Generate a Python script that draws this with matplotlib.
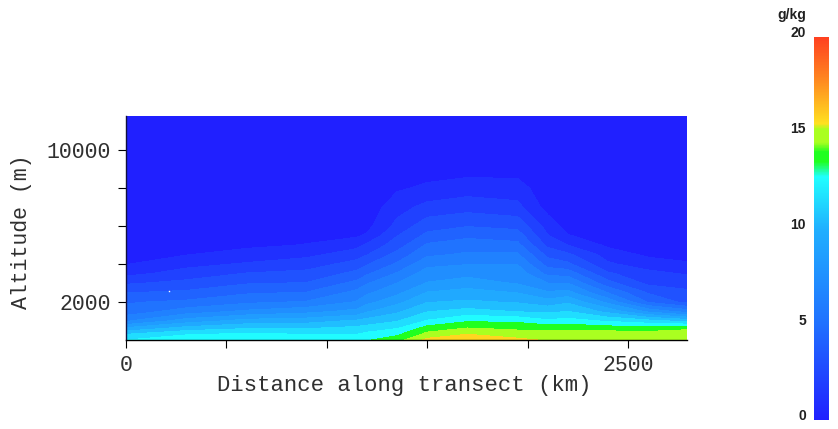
import matplotlib
matplotlib.use("Agg")
import matplotlib.pyplot as plt
import numpy as np
from matplotlib.cm import ScalarMappable
from matplotlib.colors import BoundaryNorm, LinearSegmentedColormap, Normalize

# Altitude rows (m) and transect stations (km)
altitude = [0, 300, 600, 1000, 1500, 2000, 2500, 3000, 3500, 4000, 4500, 5000, 5500, 6000, 7000, 8000, 9000, 12000]
distance = [0, 300, 600, 900, 1150, 1200, 1350, 1500, 1700, 1950, 2100, 2200, 2400, 2600, 2794]

# Specific humidity (g/kg) at each station, one value per altitude row
q_0000 = [12.0, 11.0, 9.3, 6.9, 5.4, 4.9, 3.95, 2.85, 1.7, 0.95, 0.7, 0.5, 0.4, 0.3, 0.2, 0.15, 0.1, 0.05]
q_0300 = [12.8, 11.9, 10.5, 8.5, 6.5, 5.2, 4.2, 3.3, 2.4, 1.7, 0.95, 0.7, 0.5, 0.4, 0.25, 0.15, 0.1, 0.05]
q_0600 = [13.0, 12.2, 11.0, 9.4, 7.2, 5.8, 4.85, 3.9, 3.05, 2.1, 1.45, 0.75, 0.55, 0.4, 0.25, 0.15, 0.1, 0.05]
q_0900 = [12.8, 12.0, 11.0, 9.6, 7.7, 6.1, 5.05, 4.05, 3.3, 2.5, 1.75, 1.05, 0.7, 0.5, 0.3, 0.2, 0.1, 0.05]
q_1150 = [12.6, 12.0, 11.3, 10.2, 8.3, 7.1, 6.3, 5.3, 4.3, 3.4, 2.5, 1.7, 0.85, 0.6, 0.35, 0.2, 0.1, 0.05]
q_1200 = [12.9, 12.3, 11.5, 10.4, 8.9, 7.7, 6.8, 5.9, 4.85, 3.9, 2.95, 2.2, 1.15, 0.7, 0.4, 0.2, 0.1, 0.05]
q_1350 = [13.6, 12.8, 12.0, 10.95, 9.8, 8.7, 7.75, 7.0, 6.1, 5.15, 4.35, 3.5, 2.95, 2.3, 1.6, 0.85, 0.4, 0.05]
q_1500 = [15.3, 14.3, 13.5, 12.1, 10.95, 9.95, 9.05, 8.05, 7.5, 6.7, 5.8, 5.15, 4.25, 3.6, 2.3, 1.2, 0.5, 0.05]
q_1700 = [15.9, 15.0, 14.1, 12.9, 11.4, 10.15, 9.4, 8.45, 7.7, 6.95, 6.15, 5.55, 4.75, 3.95, 2.6, 1.5, 0.6, 0.05]
q_1950 = [15.2, 14.6, 13.8, 12.8, 10.95, 9.9, 8.95, 7.9, 7.65, 6.95, 6.15, 5.3, 4.5, 3.7, 2.3, 1.4, 0.6, 0.05]
q_2100 = [14.9, 14.6, 13.8, 12.2, 10.8, 9.4, 8.1, 7.0, 5.7, 4.6, 3.7, 2.75, 2.05, 1.6, 0.6, 0.4, 0.2, 0.05]
q_2200 = [14.9, 14.6, 13.8, 12.4, 11.0, 9.85, 8.35, 7.0, 5.6, 4.2, 3.2, 2.0, 1.05, 0.6, 0.3, 0.2, 0.1, 0.05]
q_2400 = [14.8, 14.6, 13.6, 11.9, 9.7, 7.7, 5.95, 4.35, 3.15, 2.15, 1.55, 0.8, 0.6, 0.4, 0.25, 0.15, 0.1, 0.05]
q_2600 = [14.7, 14.5, 13.5, 11.4, 7.8, 4.9, 3.9, 2.75, 2.3, 1.5, 0.8, 0.6, 0.45, 0.35, 0.2, 0.15, 0.1, 0.05]
q_2794 = [14.6, 14.4, 13.9, 10.7, 6.6, 3.7, 3.2, 2.6, 1.9, 1.1, 0.7, 0.55, 0.4, 0.3, 0.2, 0.15, 0.1, 0.05]

# Colour scale
scale_values = [0, 5, 10, 12.7, 13.5, 14.0, 14.5, 15.2, 15.5, 18, 20]
scale_colors = ["#2020ff", "#2070ff", "#20b0ff", "#20ffff", "#20ff20", "#20ff20",
                "#aaff20", "#aaff20", "#ffe020", "#ff8020", "#ff4020"]

x_ticks = [0, 500, 1000, 1500, 2000, 2500]
x_tick_labels = ["0", "", "", "", "", "2500"]
y_ticks = [2000, 4000, 6000, 8000, 10000]
y_tick_labels = ["2000", "", "", "", "10000"]
bar_ticks = [0, 5, 10, 15, 20]

# Stray white speck in the field
speck_x = [214]
speck_z = [2580]

W, H = 838, 429
MONO = "Liberation Mono"
TEXT_GREY = "#303030"

fig = plt.figure(figsize=(W / 100, H / 100), dpi=100)
ax = fig.add_axes([126 / W, (H - 340) / H, 561 / W, 224 / H])

cmap = LinearSegmentedColormap.from_list(
    "qscale", [(v / 20, c) for v, c in zip(scale_values, scale_colors)], N=512)
levels = np.arange(0, 21)

q = np.column_stack([q_0000, q_0300, q_0600, q_0900, q_1150, q_1200, q_1350, q_1500,
                     q_1700, q_1950, q_2100, q_2200, q_2400, q_2600, q_2794])
ax.contourf(distance, altitude, q, levels=levels, cmap=cmap,
            norm=BoundaryNorm(levels, cmap.N), antialiased=False)
ax.plot(speck_x, speck_z, ls="none", marker="s", ms=1, mew=0, color="white")

ax.set_xlim(0, 2794)
ax.set_ylim(0, 11790)
for side in ["top", "right"]:
    ax.spines[side].set_visible(False)
for side in ["left", "bottom"]:
    ax.spines[side].set_linewidth(1.0)
    ax.spines[side].set_color("#101040" if side == "left" else "black")

ax.set_xticks(x_ticks, x_tick_labels)
ax.set_yticks(y_ticks, y_tick_labels)
ax.tick_params(length=5.8, width=0.8, labelsize=15.5, pad=5, labelcolor=TEXT_GREY)
for label in ax.get_xticklabels() + ax.get_yticklabels():
    label.set_fontfamily(MONO)

fig.text(404 / W, 1 - 386 / H, "Distance along transect (km)", family=MONO, fontsize=16,
         color=TEXT_GREY, ha="center", va="center")
fig.text(21 / W, 1 - 232 / H, "Altitude (m)", family=MONO, fontsize=15.5, rotation=90,
         color=TEXT_GREY, ha="center", va="center")

# Colour bar, labels on its left and sitting a little above their values
cax = fig.add_axes([814 / W, (H - 420) / H, 15 / W, 383 / H])
bar = fig.colorbar(ScalarMappable(norm=Normalize(0, 20), cmap=cmap), cax=cax, ticks=[])
bar.outline.set_visible(False)
for v in bar_ticks:
    cax.annotate(str(v), (0, v), xycoords=("axes fraction", "data"), xytext=(-5.8, 2.6),
                 textcoords="offset points", ha="right", va="center", annotation_clip=False,
                 family="Liberation Sans", fontweight="bold", fontsize=10, color="#202020")
fig.text(792 / W, 1 - 15 / H, "g/kg", family="Liberation Sans", fontweight="bold", fontsize=10,
         color="#202020", ha="center", va="center")

fig.savefig("out.png", dpi=100)
